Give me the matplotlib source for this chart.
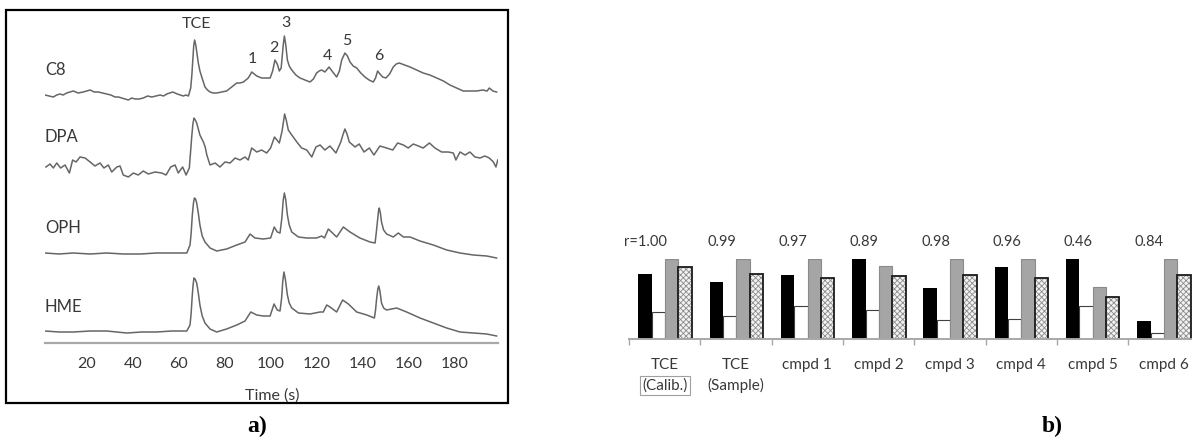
import numpy as np
import matplotlib
matplotlib.use('Agg')
import matplotlib.pyplot as plt
from matplotlib.patches import Rectangle

plt.rcParams['font.family'] = ['Lato', 'DejaVu Sans']
plt.rcParams['hatch.linewidth'] = 0.6

# ---- panel a: chromatograms (time in s, signal in arbitrary units) ----
c8_t = [1.9, 3.7, 5.5, 7.0, 8.4, 9.8, 11.3, 12.8, 14.2, 16.3, 18.5, 20.0, 21.5, 23.3, 25.1,
        26.9, 28.7, 30.5, 32.3, 33.8, 35.2, 36.7, 38.1, 39.6, 41.0, 42.8, 44.6, 46.5,
        48.3, 50.1, 51.9, 53.4, 54.8, 56.1, 57.4, 58.4, 59.4, 60.7, 62.0, 63.1, 64.2,
        65.2, 65.7, 66.1, 66.5, 66.9, 67.4, 68.0, 68.5, 69.2, 70.0, 71.4, 72.5, 73.6,
        75.0, 76.5, 78.6, 80.8, 83.0, 85.2, 86.6, 88.1, 90.2, 91.0, 91.7, 92.8, 93.9,
        96.0, 97.8, 99.7, 100.8, 101.8, 102.8, 103.7, 104.5, 105.4, 105.9, 106.5, 107.2,
        108.0, 109.1, 110.9, 112.7, 114.8, 117.0, 118.5, 119.9, 121.0, 122.1, 123.5,
        125.3, 126.9, 128.6, 129.8, 130.8, 132.2, 133.3, 134.4, 135.8, 137.3, 139.1,
        140.9, 142.7, 144.5, 145.5, 146.4, 147.4, 148.6, 150.0, 151.6, 153.2, 154.5,
        155.8, 158.2, 160.5, 163.3, 166.2, 169.1, 172.1, 175.0, 177.8, 180.7, 183.6,
        186.5, 189.4, 192.1, 194.0, 194.9, 196.5, 198.1]
c8_v = [248, 247, 246, 248, 249, 248, 250, 251, 252, 250, 251, 252, 253, 251, 251,
        250, 249, 248, 246, 246, 245, 244, 243, 245, 244, 244, 245, 247,
        246, 247, 248, 247, 249, 250, 251, 250, 249, 248, 247, 248, 247,
        255, 268, 283, 297, 303, 298, 288, 280, 272, 266, 256, 253, 251,
        250, 250, 251, 252, 256, 260, 260, 261, 265, 268, 271, 269, 267,
        265, 265, 265, 272, 283, 279, 272, 275, 298, 307, 298, 283,
        277, 273, 268, 265, 263, 261, 264, 270, 272, 273, 271,
        276, 271, 266, 272, 283, 290, 287, 281, 277, 275, 270,
        266, 263, 261, 265, 272, 269, 266, 265, 269, 276, 279,
        280, 278, 276, 273, 270, 268, 265, 262, 258, 255, 252,
        252, 252, 253, 252, 255, 252, 251]

dpa_t = [2.3, 4.1, 5.5, 7.0, 8.7, 10.6, 12.5, 13.9, 15.4, 17.1, 19.3, 21.5, 23.6, 25.8,
         27.5, 29.4, 30.9, 33.1, 34.5, 35.9, 38.1, 40.3, 42.4, 44.6, 46.8, 49.7, 52.6,
         54.5, 56.5, 58.4, 59.8, 61.7, 63.2, 64.6, 65.6, 66.1, 66.6, 67.2, 67.8, 68.5,
         69.2, 70.7, 71.5, 72.2, 73.6, 75.8, 77.9, 80.1, 82.3, 84.5, 86.6, 88.8, 90.2,
         91.7, 93.9, 96.0, 98.2, 99.9, 101.6, 103.7, 104.9, 106.0, 106.8, 107.6, 109.1,
         111.3, 113.4, 115.6, 117.8, 119.6, 121.4, 123.5, 125.7, 128.3, 130.4, 131.3,
         132.2, 133.1, 134.1, 136.6, 138.4, 140.5, 142.8, 144.8, 147.4, 150.3, 153.0,
         155.1, 157.6, 159.7, 161.9, 164.1, 166.2, 168.9, 171.3, 174.2, 177.1, 179.3,
         180.4, 182.2, 184.4, 186.5, 188.7, 190.9, 193.0, 194.9, 196.7, 197.8, 198.6]
dpa_v = [176, 179, 175, 180, 175, 178, 170, 183, 181, 186, 185, 181, 177, 180,
         175, 178, 171, 176, 177, 168, 166, 170, 168, 172, 169, 171, 170,
         168, 176, 178, 170, 176, 168, 175, 205, 218, 225, 223, 220, 214,
         208, 201, 196, 188, 178, 180, 176, 181, 180, 185, 183, 186, 183,
         195, 191, 193, 190, 195, 206, 200, 212, 229, 222, 213, 208,
         201, 195, 193, 186, 196, 198, 193, 197, 190, 201, 208,
         214, 209, 201, 196, 199, 191, 195, 188, 197, 195, 193,
         200, 198, 195, 199, 197, 195, 200, 195, 191, 191, 190,
         183, 191, 188, 191, 186, 185, 187, 185, 181, 176, 183]

oph_t = [1.9, 8.0, 14.2, 21.5, 28.7, 36.0, 43.2, 50.4, 57.6, 63.5, 64.9, 65.4, 65.9, 66.4,
         66.8, 67.3, 67.8, 68.5, 69.2, 70.2, 71.4, 73.6, 76.5, 80.8, 85.2, 88.8, 91.0,
         93.1, 96.7, 99.9, 101.5, 102.8, 104.0, 104.8, 105.4, 105.9, 106.5, 107.2, 108.0,
         109.1, 112.0, 115.6, 119.9, 122.1, 123.3, 125.0, 126.8, 128.6, 131.5, 134.4,
         138.7, 143.1, 145.3, 145.8, 146.3, 146.8, 147.1, 147.6, 148.1, 149.0, 150.3,
         153.2, 155.4, 157.6, 160.5, 164.8, 170.6, 176.4, 182.2, 188.0, 193.8, 198.1]
oph_v = [90, 89, 90, 89, 90, 89, 89, 90, 90, 90, 98, 110, 128, 140,
         145, 144, 140, 130, 118, 107, 101, 95, 92, 94, 98, 101, 109,
         105, 104, 105, 116, 111, 110, 125, 143, 150, 143, 128, 118,
         111, 106, 105, 105, 107, 105, 114, 110, 106, 116, 111,
         105, 101, 100, 110, 121, 132, 135, 130, 121, 113, 109,
         106, 110, 106, 106, 102, 98, 93, 90, 88, 87, 85]

hme_t = [1.9, 8.0, 14.2, 21.5, 28.7, 37.4, 44.0, 50.4, 57.0, 63.5, 64.9, 65.4, 65.8, 66.2,
         66.6, 67.1, 67.8, 68.5, 69.2, 70.2, 71.4, 73.6, 76.5, 80.8, 85.2, 88.8, 91.3,
         93.9, 96.7, 99.7, 101.4, 102.8, 104.0, 104.7, 105.2, 105.7, 106.3, 107.2, 108.0,
         109.1, 112.0, 117.0, 121.4, 122.8, 124.3, 125.7, 128.6, 131.2, 133.7, 137.3,
         141.7, 145.0, 145.5, 146.0, 146.5, 146.9, 147.4, 148.1, 149.0, 150.3, 154.7,
         159.0, 164.8, 170.6, 176.4, 182.2, 188.0, 193.8, 198.1]
hme_v = [12, 11, 11, 12, 12, 10, 11, 11, 12, 12, 18, 30, 45, 57,
         65, 64, 60, 50, 38, 27, 20, 14, 11, 14, 18, 22, 31,
         28, 27, 27, 39, 33, 32, 45, 62, 71, 64, 48, 40,
         35, 30, 29, 31, 31, 38, 36, 31, 43, 39, 31,
         28, 25, 33, 45, 54, 57, 52, 40, 35, 33, 35,
         31, 25, 20, 15, 11, 10, 9, 7]

traces = [(c8_t, c8_v), (dpa_t, dpa_v), (oph_t, oph_v), (hme_t, hme_v)]
trace_names = ['C8', 'DPA', 'OPH', 'HME']
trace_label_y = [273, 206, 115, 36]

peak_names = ['TCE', '1', '2', '3', '4', '5', '6']
peak_t = [67.9, 91.8, 101.4, 106.6, 124.8, 133.1, 147.0]
peak_y = [319, 284, 295, 320, 287, 302, 287]

# ---- panel b: normalised responses per compound ----
groups = ['TCE', 'TCE', 'cmpd 1', 'cmpd 2', 'cmpd 3', 'cmpd 4', 'cmpd 5', 'cmpd 6']
sub_labels = ['(Calib.)', '(Sample)', '', '', '', '', '', '']
r_labels = ['r=1.00', '0.99', '0.97', '0.89', '0.98', '0.96', '0.46', '0.84']
black_h = [0.81, 0.71, 0.80, 1.00, 0.64, 0.90, 1.00, 0.23]
white_h = [0.34, 0.29, 0.41, 0.36, 0.24, 0.25, 0.41, 0.08]
gray_h = [1.00, 1.00, 1.00, 0.91, 1.00, 1.00, 0.65, 1.00]
hatch_h = [0.90, 0.81, 0.76, 0.79, 0.80, 0.76, 0.53, 0.80]

W, H = 1192, 441
fig = plt.figure(figsize=(W / 100, H / 100), dpi=100)

text_col = '#383838'

# panel a
ax = fig.add_axes([45 / W, 1 - 343 / H, 453 / W, 331 / H])
for (t, v) in traces:
    ax.plot(t, v, color='#666666', lw=1.1)
for name, y in zip(trace_names, trace_label_y):
    ax.text(1.9, y, name, fontsize=12, color=text_col, va='center', ha='left')
for name, t, y in zip(peak_names, peak_t, peak_y):
    ax.text(t, y, name, fontsize=11.5, color=text_col, va='center', ha='center')
ax.set_xlim(1.9, 198.7)
ax.set_ylim(0, 331)
for s in ['top', 'right', 'left']:
    ax.spines[s].set_visible(False)
ax.spines['bottom'].set_color('#a8a8a8')
ax.spines['bottom'].set_linewidth(1.6)
ax.set_yticks([])
ax.set_xticks(np.arange(20, 181, 20))
ax.tick_params(axis='x', length=0, pad=10, labelsize=11.5, labelcolor=text_col)
fig.text(272 / W, 1 - 396 / H, 'Time (s)', fontsize=11.5, color=text_col,
         ha='center', va='center')
fig.add_artist(Rectangle((6 / W, 1 - 403 / H), 502 / W, 393 / H, transform=fig.transFigure,
                         fill=False, ec='black', lw=1.6))
fig.text(257 / W, 1 - 426 / H, 'a)', fontsize=17, fontweight='bold',
         family='Liberation Serif', ha='center', va='center')

# panel b
bx = fig.add_axes([629 / W, 1 - 339 / H, (W - 629) / W, 80 / H])
x = np.arange(len(groups))
bw = 0.187
off = 0.13
bx.bar(x + off, black_h, bw, align='edge', color='black', lw=0)
bx.bar(x + off + bw, white_h, bw, align='edge', color='white', ec='#404040', lw=0.8)
bx.bar(x + off + 2 * bw, gray_h, bw, align='edge', color='#a5a5a5', ec='#8a8a8a', lw=0.8)
bx.bar(x + off + 3 * bw, hatch_h, bw, align='edge', color='#f2f2f2', ec='#8c8c8c',
       hatch='xxxxxx', lw=0)
bx.bar(x + off + 3 * bw, hatch_h, bw, align='edge', fill=False, ec='#1a1a1a', lw=1.3)
bx.set_xlim(0, (W - 629) / 71.3)
bx.set_ylim(0, 1)
for s in ['top', 'right', 'left']:
    bx.spines[s].set_visible(False)
bx.spines['bottom'].set_color('#a8a8a8')
bx.spines['bottom'].set_linewidth(1.4)
bx.set_yticks([])
bx.set_xticks(x)
bx.set_xticklabels([])
bx.tick_params(axis='x', length=4, width=1, color='#a8a8a8', direction='out')
for i in range(len(groups)):
    bx.text(i + 0.5, -0.33, groups[i], fontsize=11, color=text_col, ha='center',
            va='center', clip_on=False)
    if sub_labels[i]:
        kw = {}
        if i == 0:
            kw['bbox'] = dict(boxstyle='square,pad=0.15', fc='white', ec='#a0a0a0', lw=0.8)
        bx.text(i + 0.5, -0.58, sub_labels[i], fontsize=11, color=text_col, ha='center',
                va='center', clip_on=False, **kw)
    rx = i + 0.23 if i == 0 else i + 0.3
    bx.text(rx, 1.21, r_labels[i], fontsize=10.5, color=text_col, ha='center',
            va='center', clip_on=False)
fig.text(1052 / W, 1 - 426 / H, 'b)', fontsize=17, fontweight='bold',
         family='Liberation Serif', ha='center', va='center')

fig.savefig('out.png', dpi=100)
